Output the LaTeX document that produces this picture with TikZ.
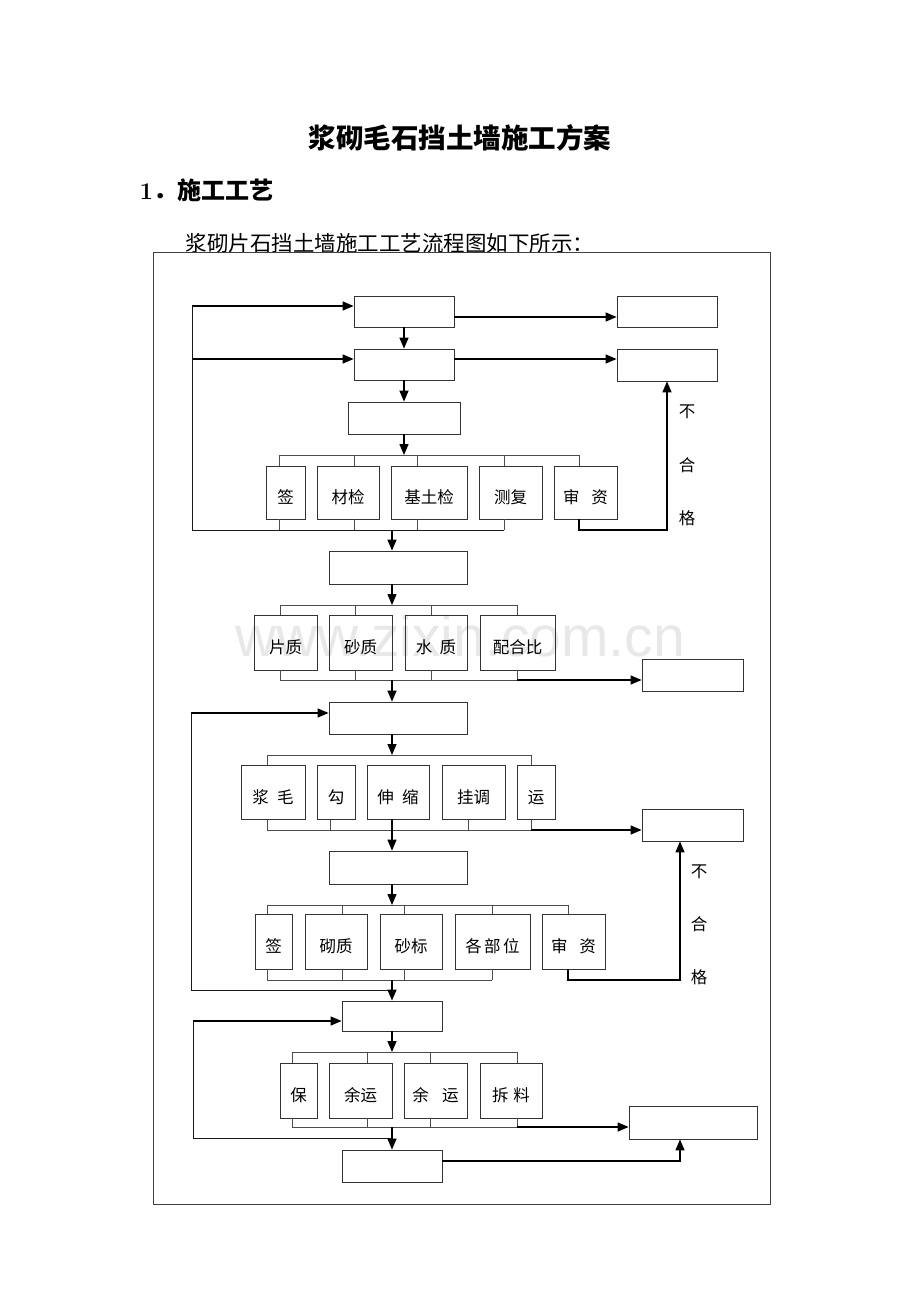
\documentclass[tikz,border=0pt]{standalone}
\usepackage{fontspec}
\newfontfamily\cjk{Noto Sans CJK SC}
\setsansfont{Liberation Sans}
\usetikzlibrary{arrows.meta}
\begin{document}
\begin{tikzpicture}[x=1pt,y=-1pt,
  bx/.style={draw=black!80,line width=0.8pt,inner sep=0pt,text height=22.5pt,text depth=0pt,font=\cjk\fontsize{16.5}{16.5}\selectfont},
  bus/.style={draw=black!70,line width=0.8pt},
  thinln/.style={draw=black!90,line width=0.9pt},
  arr/.style={draw=black,line width=1.3pt,-{Triangle[length=11pt,width=9pt]}},
  lab/.style={font=\cjk\fontsize{16.5}{16.5}\selectfont}]
\useasboundingbox (0,0) rectangle (920,1302);
\fill[white] (0,0) rectangle (920,1302);
% watermark
\node[text=black!9,font=\sffamily\fontsize{57}{57}\selectfont] (wm) at (460,636) {www.zixin.com.cn};
% headings
\node[font=\cjk\bfseries\fontsize{27.5}{27.5}\selectfont] (title) at (460,138) {浆砌毛石挡土墙施工方案};
\node[anchor=west,font=\fontsize{24}{24}\selectfont\bfseries] (h1) at (136,190) {1{\cjk ．施工工艺}};
\node[anchor=west,font=\cjk\fontsize{21.5}{21.5}\selectfont] (sub) at (182,243) {浆砌片石挡土墙施工工艺流程图如下所示：};
% frame
\draw[draw=black!75,line width=0.9pt] (153,252) rectangle (770,1204);

% ---------- section 1
\node[bx,minimum width=100pt,minimum height=31pt] (a1) at (404,311.5) {};
\node[bx,minimum width=100pt,minimum height=31pt] (a2) at (404,364.5) {};
\node[bx,minimum width=112pt,minimum height=32pt] (a3) at (404,418) {};
\node[bx,minimum width=100pt,minimum height=31pt] (r1) at (667,311.5) {};
\node[bx,minimum width=100pt,minimum height=32pt] (r2) at (667,365) {};
\node[bx,minimum width=39pt,minimum height=53pt] (s1) at (285.5,492.5) {签};
\node[bx,minimum width=62pt,minimum height=53pt] (s2) at (348,492.5) {材检};
\node[bx,minimum width=76pt,minimum height=53pt] (s3) at (429,492.5) {基土检};
\node[bx,minimum width=63pt,minimum height=53pt] (s4) at (510.5,492.5) {测复};
\node[bx,minimum width=63pt,minimum height=53pt] (s5) at (585.5,492.5) {审\hspace{0.7em}资};
\node[bx,minimum width=138pt,minimum height=33pt] (b) at (398,567.5) {};
\node[lab] (n1) at (687,412) {不};
\node[lab] (n2) at (687,465) {合};
\node[lab] (n3) at (687,518) {格};

\coordinate (L1) at (192,306);
\coordinate (L2) at (192,359);
\coordinate (L3) at (192,530);
\coordinate (Y317) at (0,317);
\coordinate (Y359) at (0,359);
\draw[arr] (L1) -- (L1 -| a1.west);
\draw[arr] (L2) -- (L2 -| a2.west);
\draw[arr] (a1) -- (a2);
\draw[arr] (a2) -- (a3);
\draw[arr] (a1.east |- Y317) -- (r1.west |- Y317);
\draw[arr] (a2.east |- Y359) -- (r2.west |- Y359);
\coordinate (T1) at (404,455);
\draw[arr] (a3) -- (T1);
\draw[bus] (279,466) |- (579,455) -- (579,466);
\foreach \x in {354,417,504} \draw[bus] (\x,455) -- (\x,466);
\foreach \x in {279,354,417,504} \draw[bus] (\x,519) -- (\x,530);
\draw[thinln] (L1) -- (L3) -- (504,530);
\coordinate (K1) at (667,530);
\draw[arr] (579,519) |- (K1) -- (r2.south);
\coordinate (BA) at (392,530);
\draw[arr] (BA) -- (BA |- b.north);

% ---------- section 2
\node[bx,minimum width=63pt,minimum height=55pt] (t1) at (285.5,642.5) {片质};
\node[bx,minimum width=63pt,minimum height=55pt] (t2) at (360.5,642.5) {砂质};
\node[bx,minimum width=62pt,minimum height=55pt] (t3) at (436,642.5) {水\hspace{0.45em}质};
\node[bx,minimum width=75pt,minimum height=55pt] (t4) at (517.5,642.5) {配合比};
\node[bx,minimum width=101pt,minimum height=32pt] (r3) at (692.5,675) {};
\node[bx,minimum width=138pt,minimum height=32pt] (c) at (398,718) {};
\coordinate (T2) at (392,605);
\draw[arr] (T2 |- b.south) -- (T2);
\draw[bus] (280,615) |- (517,605) -- (517,615);
\foreach \x in {355,431} \draw[bus] (\x,605) -- (\x,615);
\foreach \x in {280,355,431,517} \draw[bus] (\x,670) -- (\x,680);
\draw[bus] (280,680) -- (517,680);
\coordinate (K3) at (517,680);
\draw[arr] (K3) -- (K3 -| r3.west);
\coordinate (CA) at (392,680);
\draw[arr] (CA) -- (CA |- c.north);

% ---------- section 3
\node[bx,minimum width=64pt,minimum height=54pt] (u1) at (273,792) {浆\hspace{0.5em}毛};
\node[bx,minimum width=38pt,minimum height=54pt] (u2) at (336,792) {勾};
\node[bx,minimum width=62pt,minimum height=54pt] (u3) at (398,792) {伸\hspace{0.5em}缩};
\node[bx,minimum width=63pt,minimum height=54pt] (u4) at (473.5,792) {挂调};
\node[bx,minimum width=38pt,minimum height=54pt] (u5) at (536,792) {运};
\node[bx,minimum width=101pt,minimum height=32pt] (r4) at (692.5,825) {};
\node[bx,minimum width=138pt,minimum height=33pt] (d) at (398,867.5) {};
\node[bx,minimum width=37pt,minimum height=55pt] (v1) at (273.5,941.5) {签};
\node[bx,minimum width=62pt,minimum height=55pt] (v2) at (336,941.5) {砌质};
\node[bx,minimum width=62pt,minimum height=55pt] (v3) at (411,941.5) {砂标};
\node[bx,minimum width=75pt,minimum height=55pt] (v4) at (492.5,941.5) {各\hspace{0.15em}部\hspace{0.15em}位};
\node[bx,minimum width=63pt,minimum height=55pt] (v5) at (573.5,941.5) {审\hspace{0.7em}资};
\node[lab] (m1) at (699,872) {不};
\node[lab] (m2) at (699,924) {合};
\node[lab] (m3) at (699,977) {格};

\coordinate (L4) at (191,713);
\coordinate (L5) at (191,990);
\coordinate (L6) at (392,990);
\draw[arr] (L4) -- (L4 -| c.west);
\draw[thinln] (L4) -- (L5) -- (L6);
\coordinate (T3) at (392,755);
\draw[arr] (T3 |- c.south) -- (T3);
\draw[bus] (267,765) |- (531,755) -- (531,765);
\foreach \x in {267,330,468,531} \draw[bus] (\x,819) -- (\x,830);
\draw[bus] (267,830) -- (531,830);
\coordinate (K4) at (531,830);
\draw[arr] (K4) -- (K4 -| r4.west);
\coordinate (DA) at (392,819);
\draw[arr] (DA) -- (DA |- d.north);
\coordinate (T4) at (392,905);
\draw[arr] (T4 |- d.south) -- (T4);
\draw[bus] (267,914) |- (568,905) -- (568,914);
\foreach \x in {342,404,492} \draw[bus] (\x,905) -- (\x,914);
\foreach \x in {267,342,404,492} \draw[bus] (\x,969) -- (\x,980);
\draw[bus] (267,980) -- (492,980);
\coordinate (K6) at (680,980);
\draw[arr] (568,969) |- (K6) -- (K6 |- r4.south);

% ---------- section 4
\node[bx,minimum width=100pt,minimum height=30pt] (e) at (392,1016) {};
\node[bx,minimum width=37pt,minimum height=55pt] (w1) at (298.5,1090.5) {保};
\node[bx,minimum width=63pt,minimum height=55pt] (w2) at (360.5,1090.5) {余运};
\node[bx,minimum width=63pt,minimum height=55pt] (w3) at (435.5,1090.5) {余\hspace{0.8em}运};
\node[bx,minimum width=62pt,minimum height=55pt] (w4) at (511,1090.5) {拆\hspace{0.3em}料};
\node[bx,minimum width=128pt,minimum height=33pt] (r5) at (693,1122.5) {};
\node[bx,minimum width=100pt,minimum height=32pt] (f) at (392,1166) {};
\coordinate (EA) at (392,980);
\draw[arr] (EA) -- (e.north);
\coordinate (L7) at (193,1021);
\coordinate (L8) at (193,1138);
\coordinate (L9) at (392,1138);
\draw[arr] (L7) -- (L7 -| e.west);
\draw[thinln] (L7) -- (L8) -- (L9);
\coordinate (T5) at (392,1052);
\draw[arr] (e) -- (T5);
\draw[bus] (292,1063) |- (517,1052) -- (517,1063);
\foreach \x in {367,430} \draw[bus] (\x,1052) -- (\x,1063);
\foreach \x in {292,367,430,517} \draw[bus] (\x,1118) -- (\x,1127);
\draw[bus] (292,1127) -- (517,1127);
\coordinate (K7) at (517,1127);
\draw[arr] (K7) -- (K7 -| r5.west);
\coordinate (FA) at (392,1127);
\draw[arr] (FA) -- (f.north);
\coordinate (K8) at (680,1161);
\draw[arr] (f.east |- K8) -- (K8) -- (K8 |- r5.south);
\end{tikzpicture}
\end{document}
